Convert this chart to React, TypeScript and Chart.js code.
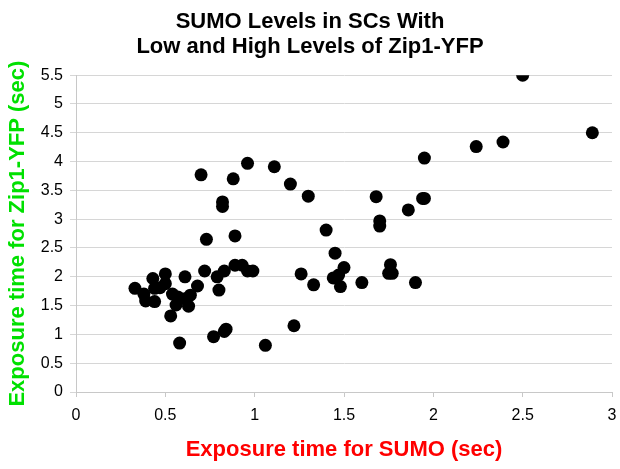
import React, { useEffect, useRef } from "react";
import { Chart, registerables } from "chart.js";

Chart.register(...registerables);

const titleLines = ["SUMO Levels in SCs With", "Low and High Levels of Zip1-YFP"];
const xAxisTitle = "Exposure time for SUMO (sec)";
const yAxisTitle = "Exposure time for Zip1-YFP (sec)";

const sumoTimes = [
  0.33, 0.38, 0.39, 0.43, 0.44, 0.44, 0.47, 0.5, 0.5, 0.54, 0.56, 0.53, 0.57, 0.61, 0.61, 0.63, 0.64,
  0.58, 0.68, 0.7, 0.72, 0.73, 0.77, 0.79, 0.8, 0.82, 0.82, 0.83, 0.83, 0.84, 0.88, 0.89, 0.89, 0.93,
  0.96, 0.96, 0.99, 1.06, 1.11, 1.2, 1.22, 1.26, 1.3, 1.33, 1.4, 1.45, 1.44, 1.47, 1.48, 1.5, 1.6,
  1.68, 1.7, 1.7, 1.75, 1.76, 1.77, 1.86, 1.9, 1.94, 1.95, 1.95, 2.24, 2.39, 2.5, 2.89,
];
const zipTimes = [
  1.8, 1.7, 1.58, 1.97, 1.57, 1.8, 1.81, 2.05, 1.88, 1.7, 1.51, 1.32, 1.65, 2.0, 1.62, 1.49, 1.68,
  0.85, 1.84, 3.77, 2.1, 2.65, 0.96, 2.0, 1.77, 3.22, 3.3, 2.1, 1.05, 1.09, 3.7, 2.71, 2.2, 2.2,
  3.97, 2.1, 2.1, 0.81, 3.91, 3.61, 1.15, 2.05, 3.4, 1.86, 2.81, 2.41, 1.98, 2.03, 1.83, 2.16, 1.9,
  3.39, 2.97, 2.88, 2.06, 2.21, 2.06, 3.16, 1.9, 3.36, 3.36, 4.06, 4.26, 4.34, 5.5, 4.5,
];

const FONT = "'Liberation Sans', Arial, Helvetica, sans-serif";
const fmt = (v: any) => String(Number(v));

export default function App() {
  const ref = useRef<HTMLCanvasElement | null>(null);
  useEffect(() => {
    if (!ref.current) return;
    const points = sumoTimes.map((x, i) => ({ x, y: zipTimes[i] }));
    const chart = new Chart(ref.current, {
      type: "scatter",
      data: {
        datasets: [
          {
            data: points,
            backgroundColor: "#000000",
            borderColor: "#000000",
            borderWidth: 0,
            pointRadius: 6.5,
            pointHoverRadius: 6.5,
          },
        ],
      },
      options: {
        responsive: false,
        animation: false,
        layout: { padding: { left: 0, right: 0, top: 0, bottom: 0 } },
        plugins: {
          legend: { display: false },
          tooltip: { enabled: false },
          title: {
            display: true,
            text: titleLines,
            color: "#000000",
            font: { family: FONT, size: 22, weight: "bold", lineHeight: 1.14 },
            padding: { top: 9.5, bottom: 15.5 },
          },
        },
        scales: {
          x: {
            type: "linear",
            min: 0,
            max: 3,
            afterFit: (s: any) => {
              s.height = 77;
              s.paddingRight = 8;
              s.paddingLeft = 0;
            },
            ticks: {
              stepSize: 0.5,
              color: "#000000",
              font: { family: FONT, size: 16 },
              padding: 9,
              callback: fmt,
            },
            grid: { drawOnChartArea: false, drawTicks: true, tickLength: 5, color: "#c8c8c8" },
            border: { color: "#c8c8c8" },
            title: {
              display: true,
              text: xAxisTitle,
              color: "#ff0000",
              font: { family: FONT, size: 22, weight: "bold", lineHeight: 1.2 },
              padding: { top: 0, bottom: 6 },
            },
          },
          y: {
            type: "linear",
            min: 0,
            max: 5.5,
            afterFit: (s: any) => {
              s.width = 76;
            },
            ticks: {
              stepSize: 0.5,
              color: "#000000",
              font: { family: FONT, size: 16 },
              padding: 7,
              callback: fmt,
            },
            grid: { color: "#d6d6d6", tickLength: 6 },
            border: { color: "#c8c8c8" },
            title: {
              display: true,
              text: yAxisTitle,
              color: "#00e000",
              font: { family: FONT, size: 22, weight: "bold", lineHeight: 1.2 },
              padding: { top: 5, bottom: 0 },
            },
          },
        },
      },
    });
    return () => chart.destroy();
  }, []);
  return (
    <div style={{ position: "fixed", left: 0, top: 0, width: 620, height: 469, background: "#ffffff" }}>
      <canvas ref={ref} width={620} height={469} style={{ display: "block", width: 620, height: 469 }} />
    </div>
  );
}
